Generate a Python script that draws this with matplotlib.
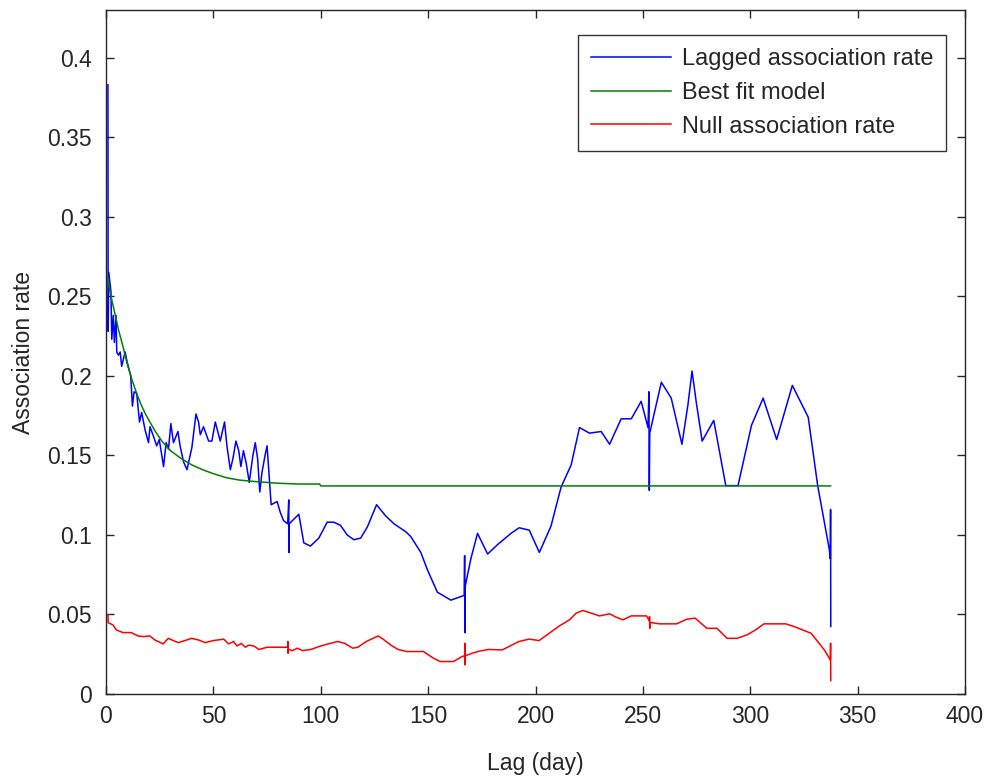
import matplotlib
matplotlib.use("Agg")
import matplotlib.pyplot as plt

# Lagged association rate (observed)
lag_obs = [0.9, 1.0, 1.3, 1.8, 2.3, 2.7, 3.4, 3.9, 4.7, 5.0, 5.8, 6.6, 7.3, 8.9, 9.8,
           11.5, 12.3, 13.1, 14.3, 15.6, 16.6, 18.2, 19.8, 20.5, 22.1, 23.6, 24.8,
           26.8, 28.0, 29.1, 30.2, 31.4, 33.5, 34.5, 36.1, 37.7, 40.0, 41.9, 43.1,
           43.9, 45.4, 47.8, 49.3, 50.9, 52.4, 53.2, 55.2, 56.3, 57.9, 59.1, 60.5,
           61.8, 62.8, 64.0, 65.3, 66.7, 68.4, 69.5, 70.6, 71.6, 72.6, 74.2, 75.0,
           76.2, 76.9, 79.7, 81.2, 82.7, 84.6, 85.1, 85.2, 85.3, 89.8, 92.1, 95.2,
           99.1, 103.0, 106.1, 109.2, 112.3, 115.4, 118.6, 121.7, 126.0, 130.2,
           134.1, 139.6, 141.9, 146.6, 149.7, 154.3, 160.6, 166.8, 167.0, 167.1,
           167.3, 169.9, 173.0, 177.7, 182.4, 188.6, 192.4, 197.1, 201.8, 207.2,
           211.9, 216.6, 220.5, 225.1, 230.6, 234.5, 239.9, 244.6, 249.2, 252.4,
           252.8, 253.0, 253.2, 258.6, 263.2, 268.2, 271.0, 272.9, 274.9, 277.6,
           283.0, 288.6, 294.3, 300.6, 306.0, 312.3, 319.6, 327.0, 331.4, 336.8,
           337.3, 337.4, 337.5]
rate_obs = [0.383, 0.228, 0.265, 0.259, 0.253, 0.223, 0.238, 0.221, 0.238, 0.215,
            0.213, 0.215, 0.206, 0.215, 0.209, 0.200, 0.181, 0.190, 0.189, 0.171,
            0.177, 0.166, 0.158, 0.168, 0.162, 0.156, 0.160, 0.143, 0.158, 0.154,
            0.170, 0.158, 0.165, 0.156, 0.146, 0.141, 0.155, 0.176, 0.171, 0.163,
            0.168, 0.159, 0.159, 0.171, 0.163, 0.159, 0.171, 0.156, 0.141, 0.148,
            0.159, 0.153, 0.143, 0.153, 0.145, 0.133, 0.150, 0.158, 0.148, 0.127,
            0.139, 0.151, 0.156, 0.133, 0.119, 0.121, 0.114, 0.109, 0.107, 0.122,
            0.089, 0.107, 0.113, 0.095, 0.093, 0.098, 0.108, 0.108, 0.106, 0.100,
            0.097, 0.098, 0.105, 0.119, 0.112, 0.107, 0.102, 0.099, 0.089, 0.078,
            0.064, 0.059, 0.062, 0.087, 0.0385, 0.068, 0.085, 0.101, 0.088, 0.094,
            0.101, 0.1045, 0.103, 0.089, 0.1055, 0.130, 0.144, 0.1675, 0.164, 0.165,
            0.157, 0.173, 0.173, 0.184, 0.1675, 0.190, 0.128, 0.164, 0.196, 0.186,
            0.157, 0.182, 0.203, 0.183, 0.159, 0.172, 0.131, 0.131, 0.169, 0.186,
            0.160, 0.194, 0.174, 0.131, 0.091, 0.085, 0.116, 0.0425]

# Best fit model
lag_fit = [0.9, 1.3, 2, 3, 4, 5, 6, 8, 10, 12, 14, 16, 18, 20, 23, 26, 30, 35, 40, 45,
           50, 56, 62, 70, 80, 90, 99.5, 100, 337.4]
rate_fit = [0.262, 0.258, 0.252, 0.246, 0.240, 0.234, 0.228, 0.218, 0.207, 0.198,
            0.190, 0.183, 0.177, 0.172, 0.165, 0.159, 0.153, 0.148, 0.144, 0.141,
            0.1385, 0.136, 0.1345, 0.1335, 0.1325, 0.132, 0.132, 0.1308, 0.1308]

# Null association rate
lag_null = [0.9, 1.0, 1.3, 3.2, 4.8, 7.9, 11.8, 14.9, 17.3, 20.4, 22.7, 26.6, 29.0,
            31.3, 33.7, 36.8, 39.9, 43.0, 46.2, 50.1, 54.8, 57.1, 59.4, 61.0, 63.0,
            64.9, 66.4, 68.8, 71.2, 75.1, 81.3, 84.6, 84.7, 84.8, 84.9, 86.8, 89.1,
            91.5, 95.4, 100.0, 104.7, 107.8, 111.0, 114.9, 117.3, 121.2, 126.7,
            129.0, 132.9, 136.0, 140.0, 147.8, 152.5, 155.6, 161.8, 165.7, 167.0,
            167.1, 167.2, 167.3, 170.4, 174.3, 178.2, 184.5, 192.3, 197.0, 201.7,
            206.4, 211.1, 215.8, 218.9, 222.0, 225.1, 229.8, 234.5, 236.9, 240.7,
            244.6, 251.7, 253.0, 253.1, 253.2, 253.3, 257.9, 265.7, 270.4, 274.3,
            279.8, 284.5, 289.2, 293.9, 298.5, 302.5, 306.4, 316.5, 320.4, 325.1,
            328.3, 331.4, 334.5, 337.3, 337.4, 337.5]
rate_null = [0.0498, 0.0448, 0.0446, 0.0435, 0.0403, 0.0386, 0.0386, 0.0365, 0.0361,
             0.0365, 0.0340, 0.0315, 0.0350, 0.0336, 0.0323, 0.0336, 0.0350, 0.0340,
             0.0323, 0.0336, 0.0345, 0.0315, 0.0330, 0.0302, 0.0318, 0.0294, 0.0307,
             0.0302, 0.0280, 0.0294, 0.0294, 0.0294, 0.0330, 0.0256, 0.0280, 0.0273,
             0.0288, 0.0273, 0.0280, 0.0302, 0.0319, 0.0330, 0.0319, 0.0288, 0.0294,
             0.0330, 0.0365, 0.0345, 0.0305, 0.0280, 0.0267, 0.0267, 0.0225, 0.0204,
             0.0204, 0.0235, 0.0240, 0.0319, 0.0183, 0.0240, 0.0256, 0.0271, 0.0280,
             0.0277, 0.0330, 0.0345, 0.0336, 0.0382, 0.0428, 0.0466, 0.0508, 0.0525,
             0.0512, 0.0491, 0.0504, 0.0487, 0.0466, 0.0491, 0.0491, 0.0460, 0.0487,
             0.0413, 0.0450, 0.0441, 0.0441, 0.0470, 0.0477, 0.0413, 0.0413, 0.0350,
             0.0350, 0.0372, 0.0403, 0.0441, 0.0441, 0.0424, 0.0399, 0.0382, 0.0330,
             0.0277, 0.0214, 0.0319, 0.0084]

x_ticks = [0, 50, 100, 150, 200, 250, 300, 350, 400]
y_ticks = [0, 0.05, 0.1, 0.15, 0.2, 0.25, 0.3, 0.35, 0.4]
y_tick_labels = ["0", "0.05", "0.1", "0.15", "0.2", "0.25", "0.3", "0.35", "0.4"]

plt.rcParams["font.family"] = ["Liberation Sans", "DejaVu Sans"]
text_color = "#262626"

fig = plt.figure(figsize=(9.84, 7.79), dpi=100)
ax = fig.add_axes([106 / 984, 1 - 694 / 779, 859 / 984, 684 / 779])

lw = 1.1
ax.plot(lag_obs, rate_obs, color=(0, 0, 1), lw=lw, label="Lagged association rate")
ax.plot(lag_fit, rate_fit, color=(0, 0.5, 0), lw=lw, label="Best fit model")
ax.plot(lag_null, rate_null, color=(1, 0, 0), lw=lw, label="Null association rate")

ax.set_xlim(0, 400)
ax.set_ylim(0, 0.43)
ax.set_xticks(x_ticks)
ax.set_yticks(y_ticks)
ax.set_yticklabels(y_tick_labels)

ax.tick_params(direction="in", top=True, right=True, length=6, width=1.0,
               color=text_color, labelcolor=text_color, labelsize=16.5)
ax.tick_params(axis="y", pad=10)
ax.tick_params(axis="x", pad=8)
for side in ax.spines.values():
    side.set_color(text_color)
    side.set_linewidth(1.0)

ax.set_xlabel("Lag (day)", fontsize=16.5, color=text_color, labelpad=17)
ax.set_ylabel("Association rate", fontsize=16.5, color=text_color, labelpad=9)

leg = ax.legend(loc="upper right", bbox_to_anchor=(946 / 984, 1 - 35 / 779),
                bbox_transform=fig.transFigure, fontsize=17, frameon=True,
                fancybox=False, handlelength=3.4, handletextpad=0.45,
                borderpad=0.55, labelspacing=0.5, borderaxespad=0)
leg.get_frame().set_edgecolor("black")
leg.get_frame().set_linewidth(1.0)
for t in leg.get_texts():
    t.set_color(text_color)

fig.savefig("out.png", dpi=100)
